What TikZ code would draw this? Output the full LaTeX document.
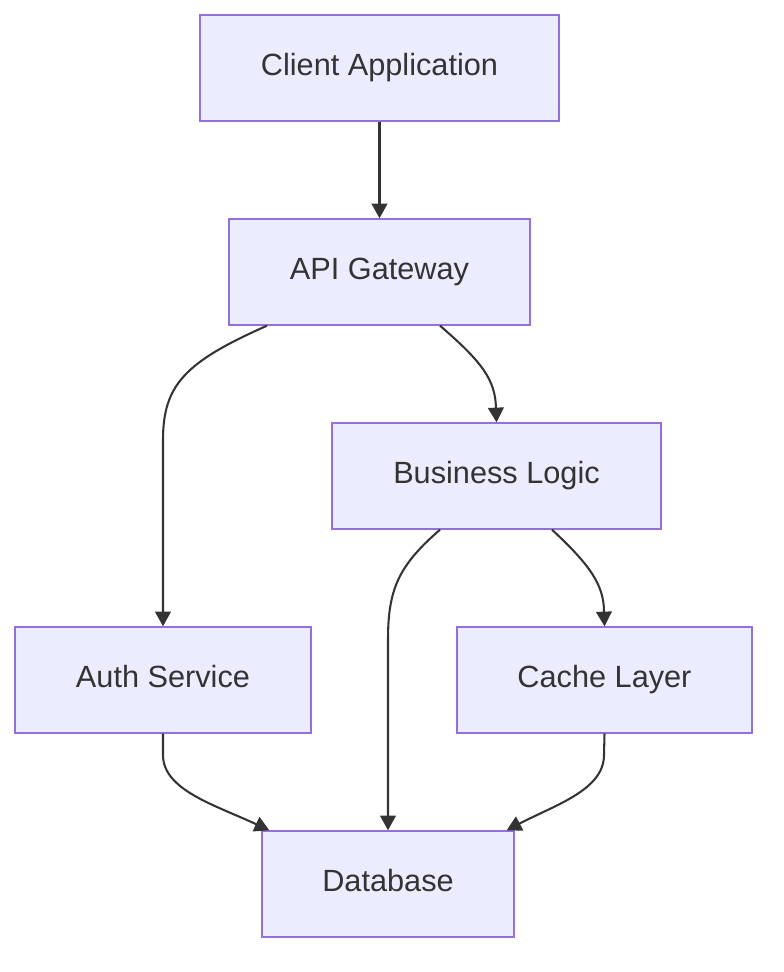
\documentclass[tikz,border=0pt]{standalone}
\usepackage{fontspec}
\setmainfont{Liberation Sans}
\usetikzlibrary{arrows.meta,calc}
\definecolor{boxfill}{HTML}{ECECFF}
\definecolor{boxline}{HTML}{9370DB}
\definecolor{ink}{HTML}{333333}
\begin{document}
\begin{tikzpicture}[x=0.03cm,y=-0.03cm,
    block/.style={draw=boxline,fill=boxfill,line width=1.2pt,inner sep=0pt,
      text=ink,font=\fontsize{26.2}{30}\selectfont,
      text height=19pt,text depth=5.4pt},
    flow/.style={draw=ink,line width=1.75pt,
      -{Triangle[length=0.44cm,width=0.47cm]}}]
    \useasboundingbox (0,0) rectangle (784,972);
    \node[block,minimum width=359*0.03cm,minimum height=106*0.03cm] (client) at (379.5,68) {Client Application};
    \node[block,minimum width=301*0.03cm,minimum height=106*0.03cm] (gateway) at (379.5,272) {API Gateway};
    \node[block,minimum width=329*0.03cm,minimum height=106*0.03cm] (logic) at (496.5,476) {Business Logic};
    \node[block,minimum width=296*0.03cm,minimum height=106*0.03cm] (auth) at (163,680) {Auth Service};
    \node[block,minimum width=295*0.03cm,minimum height=106*0.03cm] (cache) at (604.5,680) {Cache Layer};
    \node[block,minimum width=252*0.03cm,minimum height=106*0.03cm] (db) at (388,884) {Database};
    % edges
    \draw[flow] (client) -- (gateway);
    \draw[flow] ($(gateway.south)+(-112.5,0)$)
      .. controls (185,362) and (163,385) .. (163,440)
      -- (auth.north);
    \draw[flow] ($(gateway.south)+(60.5,0)$)
      .. controls (482,362) and (496,380) .. (496,410)
      -- (logic.north);
    \draw[flow] ($(logic.south)+(-56.5,0)$)
      .. controls (398,566) and (388,590) .. (388,640)
      -- (db.north);
    \draw[flow] ($(logic.south)+(55.5,0)$)
      .. controls (590,565) and (604,585) .. (604,612)
      -- (cache.north);
    \draw[flow] (auth.south) -- (163,755)
      .. controls (163,790) and (215,805) .. ($(db.north west)+(8,0)$);
    \draw[flow] (cache.south) -- (604,755)
      .. controls (604,790) and (555,805) .. ($(db.north east)+(-8,0)$);
\end{tikzpicture}
\end{document}
